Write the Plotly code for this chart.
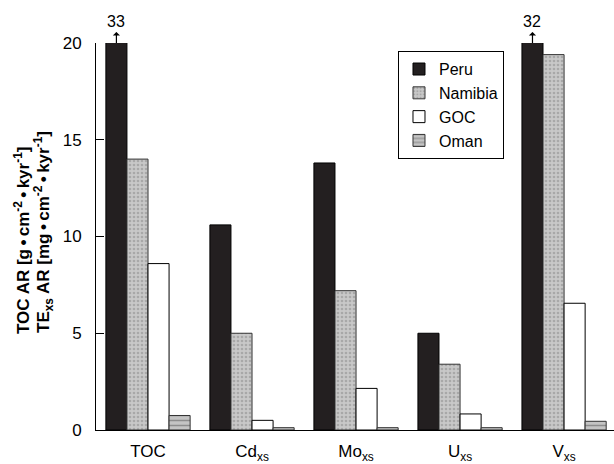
import plotly.graph_objects as go

categories = ["TOC", "Cd<sub>xs</sub>", "Mo<sub>xs</sub>", "U<sub>xs</sub>", "V<sub>xs</sub>"]
peru = [33, 10.6, 13.8, 5.0, 32]
namibia = [14.0, 5.0, 7.2, 3.4, 19.4]
goc = [8.6, 0.5, 2.15, 0.83, 6.55]
oman = [0.75, 0.12, 0.12, 0.12, 0.45]
y_max = 20
y_ticks = [0, 5, 10, 15, 20]
title_lines = ["<b>TOC AR [g\u2009•\u2009cm<sup>-2</sup>\u2009•\u2009kyr<sup>-1</sup>]</b>",
               "<b>TE<sub>xs</sub> AR [mg\u2009•\u2009cm<sup>-2</sup>\u2009•\u2009kyr<sup>-1</sup>]</b>"]

bargap = 0.19
n_series = 4
bar_w = (1 - bargap) / n_series

font_family = "Liberation Sans, Arial, sans-serif"

fig = go.Figure()
fig.add_trace(go.Bar(name="Peru", x=categories, y=peru,
                     marker=dict(color="#231f20", line=dict(color="black", width=1))))
fig.add_trace(go.Bar(name="Namibia", x=categories, y=namibia,
                     marker=dict(color="#c4c4c4", line=dict(color="#333", width=1),
                                 pattern=dict(shape=".", fgcolor="#888888", bgcolor="#c8c8c8",
                                              size=4, solidity=0.35, fillmode="overlay"))))
fig.add_trace(go.Bar(name="GOC", x=categories, y=goc,
                     marker=dict(color="white", line=dict(color="black", width=1))))
fig.add_trace(go.Bar(name="Oman", x=categories, y=oman,
                     marker=dict(color="#bdbdbd", line=dict(color="#333", width=1),
                                 pattern=dict(shape="-", fgcolor="#555555", bgcolor="#c4c4c4",
                                              size=5, solidity=0.3, fillmode="overlay"))))

# arrows for clipped bars
for i, v in enumerate(peru):
    if v > y_max:
        xpos = i - (n_series - 1) / 2 * bar_w
        fig.add_annotation(x=xpos, y=y_max, xref="x", yref="y", ax=0, ay=-11,
                           text=str(int(v)) if float(v).is_integer() else str(v),
                           showarrow=True, arrowhead=2, arrowside="start", arrowsize=1,
                           arrowwidth=1.2, arrowcolor="black", yanchor="bottom",
                           font=dict(size=16, color="black", family=font_family))

# two-line y-axis title, placed per line (pixels converted to paper coords)
plot_left, plot_w = 96, 518
plot_bottom, plot_h = 430, 387
for (cx, cy), txt in zip([(22, 241), (43, 232)], title_lines):
    fig.add_annotation(x=(cx - plot_left) / plot_w, y=(plot_bottom - cy) / plot_h,
                       xref="paper", yref="paper", showarrow=False, textangle=-90,
                       xanchor="center", yanchor="middle", text=txt,
                       font=dict(size=17, color="black", family=font_family))

fig.update_layout(
    width=614, height=464,
    margin=dict(l=96, r=0, t=43, b=34),
    paper_bgcolor="white", plot_bgcolor="white",
    barmode="group", bargap=bargap, bargroupgap=0,
    font=dict(family=font_family, color="black"),
    showlegend=True,
    legend=dict(x=0.583, y=0.979, xanchor="left", yanchor="top",
                bordercolor="black", borderwidth=1, bgcolor="white",
                font=dict(size=16, color="black", family=font_family),
                tracegroupgap=0, itemwidth=30),
    xaxis=dict(showline=True, linecolor="black", linewidth=1, ticks="",
               range=[-0.5, 4.48], tickfont=dict(size=17), ticklabelstandoff=6,
               showgrid=False, zeroline=False, automargin=False),
    yaxis=dict(showline=True, linecolor="black", linewidth=1, ticks="inside",
               ticklen=8, tickcolor="black", range=[0, y_max], tickvals=y_ticks,
               tickfont=dict(size=17), ticklabelstandoff=10,
               showgrid=False, zeroline=False, automargin=False),
)

fig.write_html("out.html")
